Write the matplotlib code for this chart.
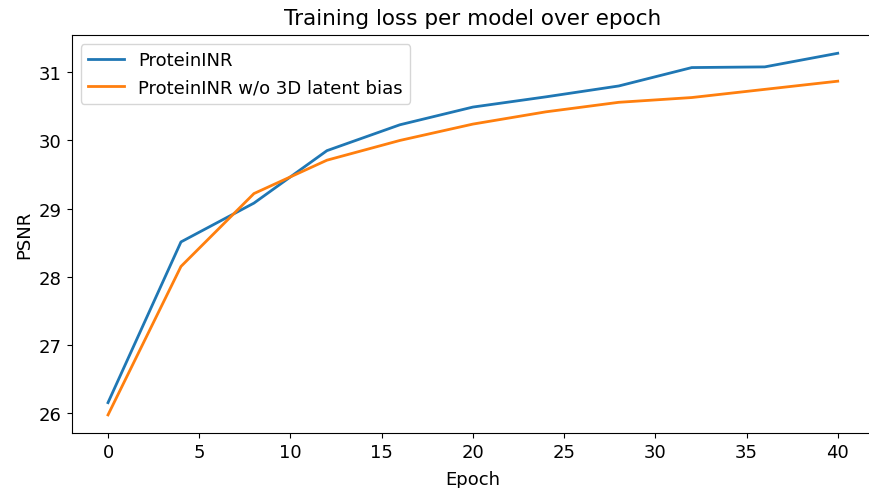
import matplotlib
matplotlib.use("Agg")
import matplotlib.pyplot as plt

epochs = [0, 4, 8, 12, 16, 20, 24, 28, 32, 36, 40]
psnr_full = [26.15, 28.51, 29.08, 29.85, 30.23, 30.49, 30.64, 30.80, 31.07, 31.08, 31.28]
psnr_no_bias = [25.97, 28.15, 29.22, 29.71, 30.00, 30.24, 30.42, 30.56, 30.63, 30.75, 30.87]

fig, ax = plt.subplots(figsize=(8.69, 4.89), dpi=100)
ax.plot(epochs, psnr_full, color="#1f77b4", linewidth=2, label="ProteinINR")
ax.plot(epochs, psnr_no_bias, color="#ff7f0e", linewidth=2, label="ProteinINR w/o 3D latent bias")

ax.set_title("Training loss per model over epoch", fontsize=15.5, pad=8)
ax.set_xlabel("Epoch", fontsize=13, labelpad=7)
ax.set_ylabel("PSNR", fontsize=13)
ax.tick_params(labelsize=13)
ax.legend(loc="upper left", fontsize=13)

# axes runs a bit past the right edge, so its right spine is cut off like in the original
fig.subplots_adjust(left=0.0823, right=1.006, top=0.926, bottom=0.1125)
fig.savefig("out.png", dpi=100)
